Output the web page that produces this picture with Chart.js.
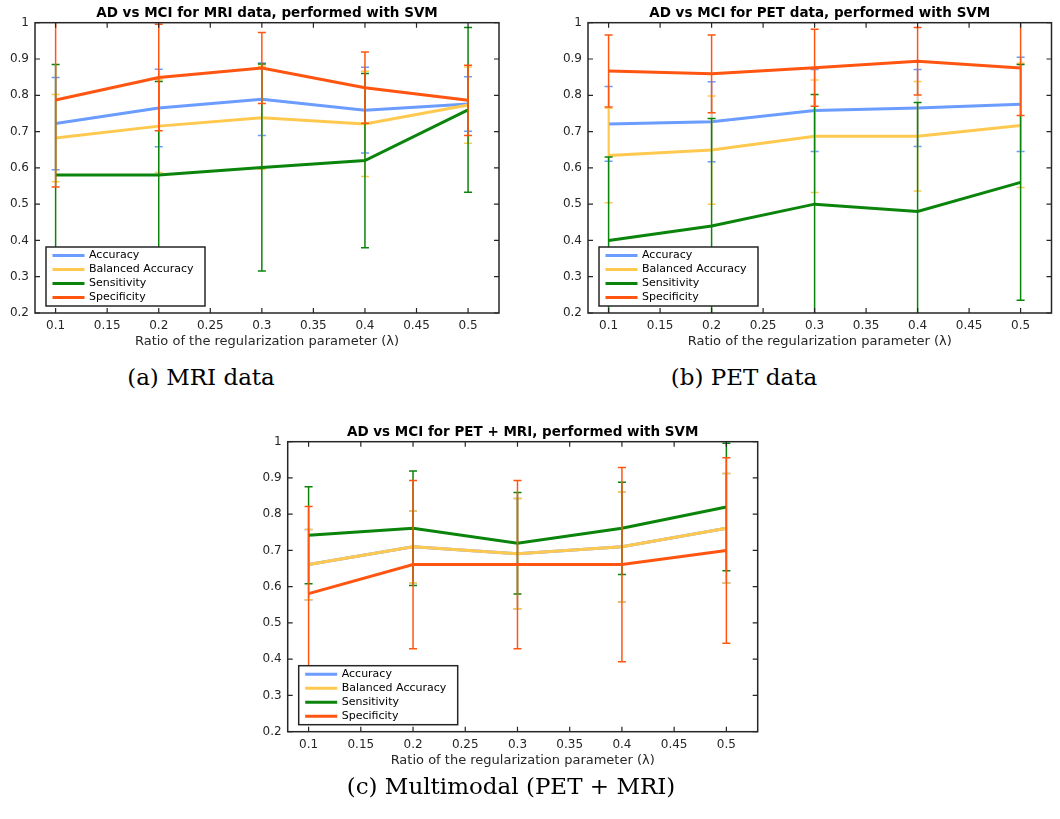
<!DOCTYPE html>
<html>
<head>
<meta charset="utf-8">
<script src="https://cdn.jsdelivr.net/npm/chart.js@4.4.1/dist/chart.umd.min.js"></script>
<style>
  body { margin: 0; background: #fff; width: 1060px; height: 819px; position: relative; overflow: hidden; }
  canvas { position: absolute; }
  .cap { position: absolute; width: 400px; text-align: center; font-family: 'DejaVu Serif', serif;
         font-size: 23px; line-height: 23px; color: #000; white-space: nowrap; }
</style>
</head>
<body>
<canvas id="cMRI" width="530" height="360" style="left:0;top:0"></canvas>
<canvas id="cPET" width="530" height="360" style="left:530px;top:0"></canvas>
<canvas id="cMM" width="540" height="360" style="left:250px;top:415px"></canvas>
<div class="cap" style="left:1px;top:366px">(a) MRI data</div>
<div class="cap" style="left:544px;top:366px">(b) PET data</div>
<div class="cap" style="left:311px;top:775px">(c) Multimodal (PET + MRI)</div>

<script>
// valeurs (moyenne + demi-largeur de la barre d'erreur)
const xVals  = [0.1, 0.2, 0.3, 0.4, 0.5];
const xTicks = [0.1, 0.15, 0.2, 0.25, 0.3, 0.35, 0.4, 0.45, 0.5];
const yTicks = [0.2, 0.3, 0.4, 0.5, 0.6, 0.7, 0.8, 0.9, 1];
const seriesNames = ['Accuracy', 'Balanced Accuracy', 'Sensitivity', 'Specificity'];

const mriAcc    = [0.722, 0.765, 0.789, 0.759, 0.776];
const mriAccErr = [0.127, 0.107, 0.100, 0.118, 0.075];
const mriBal    = [0.682, 0.715, 0.738, 0.721, 0.773];
const mriBalErr = [0.120, 0.128, 0.142, 0.145, 0.105];
const mriSen    = [0.580, 0.580, 0.601, 0.620, 0.760];
const mriSenErr = [0.305, 0.258, 0.285, 0.240, 0.227];
const mriSpe    = [0.787, 0.849, 0.875, 0.821, 0.786];
const mriSpeErr = [0.240, 0.147, 0.098, 0.098, 0.097];

const petAcc    = [0.721, 0.727, 0.758, 0.765, 0.775];
const petAccErr = [0.103, 0.110, 0.113, 0.106, 0.130];
const petBal    = [0.634, 0.649, 0.687, 0.687, 0.717];
const petBalErr = [0.130, 0.149, 0.155, 0.151, 0.171];
const petSen    = [0.400, 0.440, 0.500, 0.480, 0.560];
const petSenErr = [0.230, 0.296, 0.302, 0.300, 0.325];
const petSpe    = [0.867, 0.859, 0.876, 0.894, 0.875];
const petSpeErr = [0.099, 0.107, 0.106, 0.093, 0.131];

// multimodal : la courbe Accuracy est entièrement cachée sous Balanced Accuracy
const mmAcc    = [0.661, 0.710, 0.691, 0.710, 0.761];
const mmAccErr = [0.097, 0.099, 0.152, 0.152, 0.151];
const mmBal    = [0.661, 0.710, 0.691, 0.710, 0.761];
const mmBalErr = [0.097, 0.099, 0.152, 0.152, 0.151];
const mmSen    = [0.742, 0.761, 0.720, 0.761, 0.820];
const mmSenErr = [0.134, 0.158, 0.140, 0.127, 0.176];
const mmSpe    = [0.581, 0.661, 0.661, 0.661, 0.700];
const mmSpeErr = [0.240, 0.232, 0.232, 0.268, 0.256];

const COLORS = ['#6b9cff', '#ffc950', '#0b840b', '#ff5511'];
const AXIS = '#262626';

// barres d'erreur dessinées juste après chaque courbe (même ordre que MATLAB)
const errorBars = {
  id: 'errorBars',
  afterDatasetDraw(chart, args) {
    const ds = chart.data.datasets[args.index];
    if (!ds.err) return;
    const { ctx, chartArea: a, scales: { y } } = chart;
    ctx.save();
    ctx.beginPath();
    ctx.rect(a.left, a.top, a.right - a.left, a.bottom - a.top);
    ctx.clip();
    ctx.strokeStyle = ds.borderColor;
    ctx.lineWidth = 1.5;
    args.meta.data.forEach((pt, i) => {
      const v = ds.data[i].y, e = ds.err[i];
      const hi = y.getPixelForValue(v + e), lo = y.getPixelForValue(v - e);
      ctx.beginPath();
      ctx.moveTo(pt.x, hi); ctx.lineTo(pt.x, lo);
      ctx.moveTo(pt.x - 4, hi); ctx.lineTo(pt.x + 4, hi);
      ctx.moveTo(pt.x - 4, lo); ctx.lineTo(pt.x + 4, lo);
      ctx.stroke();
    });
    ctx.restore();
  }
};

// cadre + graduations vers l'intérieur sur les 4 côtés
const axesBox = {
  id: 'axesBox',
  afterDatasetsDraw(chart) {
    const { ctx, chartArea: a, scales: { x, y } } = chart;
    ctx.save();
    ctx.strokeStyle = AXIS;
    ctx.lineWidth = 1.2;
    ctx.beginPath();
    xTicks.forEach(v => {
      const px = x.getPixelForValue(v);
      ctx.moveTo(px, a.bottom); ctx.lineTo(px, a.bottom - 5);
      ctx.moveTo(px, a.top);    ctx.lineTo(px, a.top + 5);
    });
    yTicks.forEach(v => {
      const py = y.getPixelForValue(v);
      ctx.moveTo(a.left, py);  ctx.lineTo(a.left + 5, py);
      ctx.moveTo(a.right, py); ctx.lineTo(a.right - 5, py);
    });
    ctx.stroke();
    ctx.lineWidth = 1.5;
    ctx.strokeRect(a.left, a.top, a.right - a.left, a.bottom - a.top);
    ctx.restore();
  }
};

// légende encadrée en bas à gauche de la zone de tracé
const boxLegend = {
  id: 'boxLegend',
  afterDraw(chart) {
    const { ctx, chartArea: a } = chart;
    const w = 159, h = 59, left = a.left + 11, top = a.bottom - 7 - h;
    ctx.save();
    ctx.fillStyle = '#fff';
    ctx.fillRect(left, top, w, h);
    ctx.strokeStyle = AXIS;
    ctx.lineWidth = 1.5;
    ctx.strokeRect(left, top, w, h);
    ctx.font = '11px "DejaVu Sans"';
    ctx.textBaseline = 'middle';
    ctx.textAlign = 'left';
    chart.data.datasets.forEach((ds, i) => {
      const yy = top + 8.5 + i * 14;
      ctx.strokeStyle = ds.borderColor;
      ctx.lineWidth = 3;
      ctx.beginPath(); ctx.moveTo(left + 6.5, yy); ctx.lineTo(left + 38.5, yy); ctx.stroke();
      ctx.fillStyle = '#000';
      ctx.fillText(ds.label, left + 43, yy);
    });
    ctx.restore();
  }
};

const panels = [
  { id: 'cMRI', title: 'AD vs MCI for MRI data, performed with SVM',
    series: [mriAcc, mriBal, mriSen, mriSpe], errs: [mriAccErr, mriBalErr, mriSenErr, mriSpeErr],
    box: { x: 0, y: 0, w: 530, h: 360 }, area: { l: 35, t: 22.7, r: 499, b: 313 } },
  { id: 'cPET', title: 'AD vs MCI for PET data, performed with SVM',
    series: [petAcc, petBal, petSen, petSpe], errs: [petAccErr, petBalErr, petSenErr, petSpeErr],
    box: { x: 530, y: 0, w: 530, h: 360 }, area: { l: 588, t: 22.7, r: 1051.5, b: 313 } },
  { id: 'cMM', title: 'AD vs MCI for PET + MRI, performed with SVM',
    series: [mmAcc, mmBal, mmSen, mmSpe], errs: [mmAccErr, mmBalErr, mmSenErr, mmSpeErr],
    box: { x: 250, y: 415, w: 540, h: 360 }, area: { l: 287.7, t: 441.7, r: 757.7, b: 731.7 } },
];

function makeChart(p) {
  const titleLh = 13.5 * 1.2, xTitleLh = 13 * 1.2;
  const boxBottom = p.box.y + p.box.h;
  new Chart(document.getElementById(p.id), {
    type: 'line',
    data: {
      datasets: seriesNames.map((name, k) => ({
        label: name,
        data: xVals.map((x, i) => ({ x, y: p.series[k][i] })),
        err: p.errs[k],
        borderColor: COLORS[k],
        backgroundColor: COLORS[k],
        borderWidth: 3,
        pointRadius: 0,
        tension: 0,
        order: 4 - k
      }))
    },
    options: {
      responsive: false,
      animation: false,
      events: [],
      layout: { padding: { left: 0, top: 0, bottom: 0, right: p.box.x + p.box.w - p.area.r } },
      plugins: {
        legend: { display: false },
        tooltip: { enabled: false },
        title: {
          display: true, text: p.title, fullSize: false, color: '#000',
          font: { family: 'DejaVu Sans', size: 13.5, weight: 'bold', lineHeight: 1.2 },
          padding: { top: p.area.t - p.box.y - 9.5 - titleLh / 2, bottom: 9.5 - titleLh / 2 }
        }
      },
      scales: {
        x: {
          type: 'linear', min: 0.08, max: 0.53,
          grid: { display: false, drawTicks: false },
          border: { display: false },
          afterBuildTicks: s => { s.ticks = xTicks.map(v => ({ value: v })); },
          afterFit: s => { s.height = boxBottom - p.area.b; },
          ticks: { padding: 6, autoSkip: false, maxRotation: 0, color: AXIS,
                   font: { family: 'DejaVu Sans', size: 12 }, callback: v => String(v) },
          title: {
            display: true, text: 'Ratio of the regularization parameter (λ)', color: AXIS,
            font: { family: 'DejaVu Sans', size: 13, lineHeight: 1.2 },
            padding: { top: 0, bottom: boxBottom - (p.area.b + 28.5) - xTitleLh / 2 }
          }
        },
        y: {
          min: 0.2, max: 1,
          grid: { display: false, drawTicks: false },
          border: { display: false },
          afterBuildTicks: s => { s.ticks = yTicks.map(v => ({ value: v })); },
          afterFit: s => { s.width = p.area.l - p.box.x; },
          ticks: { padding: 6, color: AXIS, font: { family: 'DejaVu Sans', size: 12 },
                   callback: v => String(v) }
        }
      }
    },
    plugins: [errorBars, axesBox, boxLegend]
  });
}

panels.forEach(makeChart);
</script>
</body>
</html>
